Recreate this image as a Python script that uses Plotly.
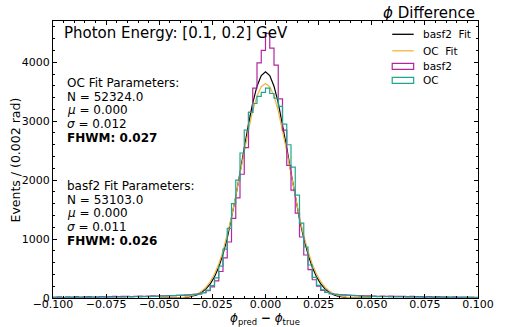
import numpy as np
import plotly.graph_objects as go

# ---------------- data ----------------
bin_edges = np.round(np.linspace(-0.1, 0.1, 101), 4)   # 0.002 rad bins

basf2_counts = [14, 18, 12, 20, 16, 22, 15, 19, 24, 17, 21, 25, 19, 23, 27, 22, 26, 30, 24, 28, 32, 27, 31, 35, 33,
                38, 36, 42, 40, 46, 44, 50, 55, 60, 68,
                90, 125, 190, 290, 450, 680, 950, 1350, 1700, 2100,
                2550, 3150, 3560, 3990, 4200, 4490, 4240, 3950, 3380, 2850,
                2250, 1830, 1440, 1035, 730, 480, 310, 200, 130, 95, 75,
                62, 56, 52, 48, 45, 42, 40, 37, 35,
                33, 30, 34, 28, 31, 26, 29, 27, 24, 28, 22, 25, 21, 23, 19, 22, 18, 20, 17, 19, 15, 17, 14, 16, 13]

oc_counts = [8, 10, 7, 11, 9, 12, 10, 13, 11, 14, 12, 15, 13, 16, 14, 17, 15, 19, 18, 21, 20, 23, 25, 27, 29,
             31, 34, 37, 40, 44, 48, 53, 58, 62, 70,
             92, 135, 210, 340, 540, 830, 1180, 1600, 2000, 2460,
             2850, 3150, 3300, 3420, 3490, 3560, 3470, 3390, 3250, 2950,
             2600, 2220, 1745, 1270, 865, 560, 350, 215, 140, 95, 72,
             62, 55, 49, 44, 40, 36, 33, 30, 28,
             26, 23, 25, 21, 19, 20, 17, 18, 15, 16, 14, 15, 12, 13, 11, 12, 10, 11, 9, 10, 8, 9, 7, 8, 7]

fit_x = np.round(np.linspace(-0.05, 0.05, 51), 4)
basf2_fit = [0, 0, 1, 1, 3, 5, 10, 19, 33, 57, 96, 154, 240, 361, 527, 744, 1016, 1343, 1718, 2126,
             2547, 2952, 3311, 3594, 3775, 3838, 3775, 3594, 3311, 2952, 2547, 2126, 1718, 1343, 1016,
             744, 527, 361, 240, 154, 96, 57, 33, 19, 10, 5, 3, 1, 1, 0, 0]
oc_fit = [0, 0, 1, 2, 4, 8, 15, 26, 45, 74, 118, 184, 278, 406, 577, 794, 1060, 1374, 1727, 2105,
          2488, 2854, 3175, 3426, 3586, 3641, 3586, 3426, 3175, 2854, 2488, 2105, 1727, 1374, 1060,
          794, 577, 406, 278, 184, 118, 74, 45, 26, 15, 8, 4, 2, 1, 0, 0]

x_ticks = [-0.1, -0.075, -0.05, -0.025, 0.0, 0.025, 0.05, 0.075, 0.1]
y_ticks = [0, 1000, 2000, 3000, 4000]

oc_params = ["OC Fit Parameters:", "N = 52324.0", "<i>μ</i> = 0.000", "<i>σ</i> = 0.012", "<b>FHWM: 0.027</b>"]
basf2_params = ["basf2 Fit Parameters:", "N = 53103.0", "<i>μ</i> = 0.000", "<i>σ</i> = 0.011", "<b>FHWM: 0.026</b>"]

# ---------------- style ----------------
FONT = "DejaVu Sans"
C_BASF2 = "#b3279d"
C_OC = "#1fa690"
C_OCFIT = "#f3b445"
C_FIT = "#000000"

W, H = 506, 327
L, R, T, B = 53, 17, 21, 29
PW, PH = W - L - R, H - T - B


def px(xp):
    return (xp - L) / PW


def py(yp):
    return (H - B - yp) / PH


def step_xy(edges, counts):
    xs = [edges[0]] + list(edges)
    ys = [0] + list(counts) + [counts[-1]]
    xs = xs + [edges[-1]]
    ys = ys + [0]
    return xs, ys


fig = go.Figure()
fig.add_trace(go.Scatter(x=fit_x, y=basf2_fit, mode="lines", line=dict(color=C_FIT, width=1.2),
                         name="basf2  Fit", showlegend=False))
fig.add_trace(go.Scatter(x=fit_x, y=oc_fit, mode="lines", line=dict(color=C_OCFIT, width=1.2),
                         name="OC  Fit", showlegend=False))
bx, by = step_xy(bin_edges, basf2_counts)
fig.add_trace(go.Scatter(x=bx, y=by, mode="lines", line=dict(color=C_BASF2, width=1.2, shape="hv"),
                         name="basf2", showlegend=False))
ox, oy = step_xy(bin_edges, oc_counts)
fig.add_trace(go.Scatter(x=ox, y=oy, mode="lines", line=dict(color=C_OC, width=1.2, shape="hv"),
                         name="OC", showlegend=False))

annotations = []
shapes = []

# title and inner title
annotations.append(dict(text="<i>ϕ</i> Difference", xref="paper", yref="paper", x=px(488), y=py(12.5),
                        xanchor="right", yanchor="middle", showarrow=False, font=dict(size=15, family=FONT, color="black")))
annotations.append(dict(text="Photon Energy: [0.1, 0.2] GeV", xref="paper", yref="paper", x=px(62), y=py(33),
                        xanchor="left", yanchor="middle", showarrow=False, font=dict(size=15, family=FONT, color="black")))

# parameter blocks
for i, t in enumerate(oc_params):
    annotations.append(dict(text=t, xref="paper", yref="paper", x=px(65.5), y=py(82.7 + 13.8 * i),
                            xanchor="left", yanchor="middle", showarrow=False,
                            font=dict(size=12, family=FONT, color="black")))
for i, t in enumerate(basf2_params):
    annotations.append(dict(text=t, xref="paper", yref="paper", x=px(65.5), y=py(185.7 + 13.8 * i),
                            xanchor="left", yanchor="middle", showarrow=False,
                            font=dict(size=12, family=FONT, color="black")))

# axis titles
annotations.append(dict(text="Events / (0.002 rad)", xref="paper", yref="paper", x=px(15), y=0.5,
                        xanchor="center", yanchor="middle", textangle=-90, showarrow=False,
                        font=dict(size=12.5, family=FONT, color="black")))
annotations.append(dict(text="<i>ϕ</i><sub>pred</sub> <b>−</b> <i>ϕ</i><sub>true</sub>", xref="paper", yref="paper",
                        x=px(270), y=py(327.5), xanchor="center", yanchor="bottom", showarrow=False, borderpad=0,
                        font=dict(size=12, family=FONT, color="black")))

# manual legend
leg = [("basf2  Fit", "line", C_FIT, 34.3), ("OC  Fit", "line", C_OCFIT, 50.8),
       ("basf2", "box", C_BASF2, 66.3), ("OC", "box", C_OC, 80.3)]
for label, kind, col, yc in leg:
    if kind == "line":
        shapes.append(dict(type="line", xref="paper", yref="paper", x0=px(401), x1=px(423), y0=py(yc), y1=py(yc),
                           line=dict(color=col, width=1.3)))
    else:
        shapes.append(dict(type="rect", xref="paper", yref="paper", x0=px(401), x1=px(423), y0=py(yc - 3),
                           y1=py(yc + 3), line=dict(color=col, width=1.2), fillcolor="rgba(0,0,0,0)"))
    annotations.append(dict(text=label.replace("  ", "\u00a0 "), xref="paper", yref="paper", x=px(430.5), y=py(yc),
                            xanchor="left", yanchor="middle", showarrow=False,
                            font=dict(size=10.5, family=FONT, color="black")))

axis_common = dict(showline=True, linecolor="black", linewidth=1, mirror="ticks", ticks="inside",
                   tickcolor="black", ticklen=4, tickwidth=1, showgrid=False, zeroline=False,
                   tickfont=dict(size=11, family=FONT, color="black"))

fig.update_layout(
    width=W, height=H,
    margin=dict(l=L, r=R, t=T, b=B),
    paper_bgcolor="white", plot_bgcolor="white",
    showlegend=False,
    font=dict(family=FONT, color="black"),
    annotations=annotations,
    shapes=shapes,
    xaxis=dict(range=[-0.1, 0.1], tickvals=x_ticks, tickformat=".3f", ticklabelstandoff=-4,
               minor=dict(ticks="inside", ticklen=2, dtick=0.005, tickcolor="black", tick0=0),
               **axis_common),
    yaxis=dict(range=[0, 4700], tickvals=y_ticks, tickformat="d",
               minor=dict(ticks="inside", ticklen=2, dtick=200, tickcolor="black", tick0=0),
               **axis_common),
)

fig.write_html("out.html")
